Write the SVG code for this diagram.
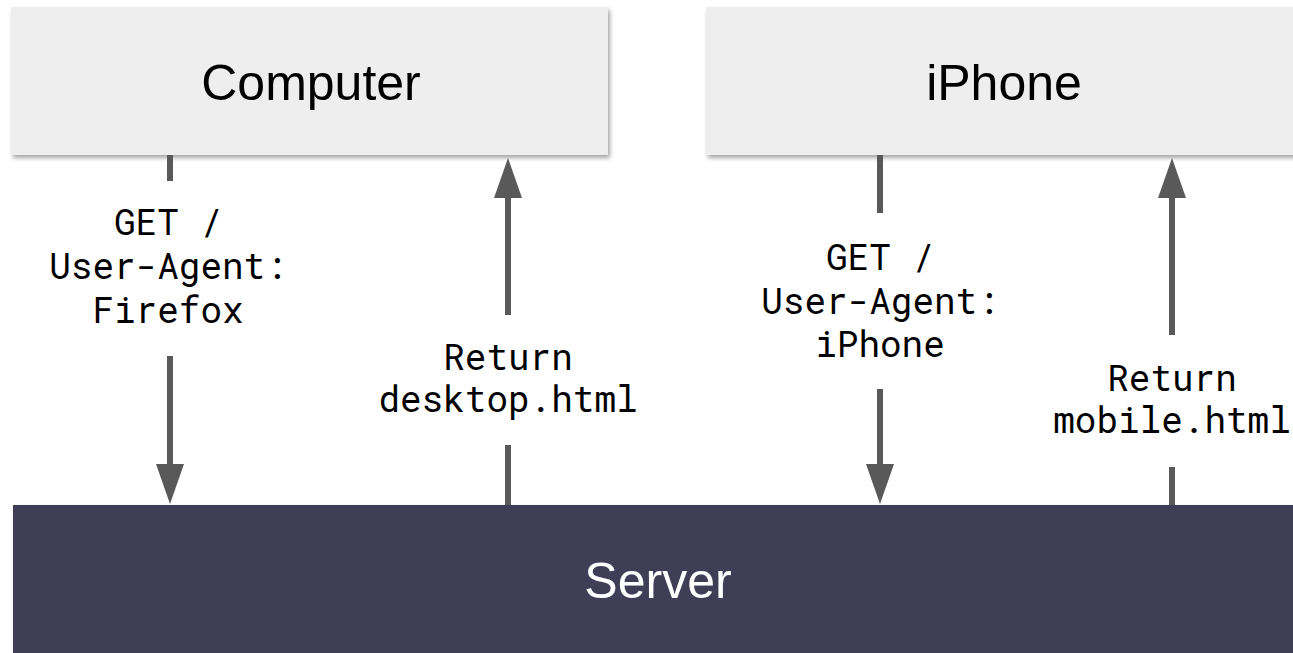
<svg xmlns="http://www.w3.org/2000/svg" width="1293" height="653" viewBox="0 0 1293 653">
<style>
.box{fill:#eeeeee}
.srv{fill:#403d56}
.title{font-family:Arial,"Liberation Sans",sans-serif;font-size:50px;text-anchor:middle}
.lbl{font-family:"Roboto Mono","Liberation Mono","DejaVu Sans Mono",monospace;font-size:36px;text-anchor:middle;fill:#000}
.ln{stroke:#595959;stroke-width:6;fill:none}
</style>
<defs>
<filter id="sh" x="-5%" y="-10%" width="110%" height="130%">
<feDropShadow dx="2" dy="3" stdDeviation="2" flood-color="#000" flood-opacity="0.35"/>
</filter>
<marker id="ah" viewBox="0 0 28 40" refX="28" refY="14" markerUnits="userSpaceOnUse" markerWidth="40" markerHeight="28" orient="auto">
<path d="M0,0 L40,14 L0,28 Z" fill="#595959"/>
</marker>
</defs>
<rect width="1293" height="653" fill="#ffffff"/>
<g id="server">
<rect class="srv" x="13" y="505" width="1290" height="160" filter="url(#sh)"/>
<text class="title" x="658" y="598" fill="#ffffff">Server</text>
</g>
<g id="computer">
<rect class="box" x="11" y="7" width="597" height="148" filter="url(#sh)"/>
<text class="title" x="311" y="100" fill="#000">Computer</text>
</g>
<g id="iphone">
<rect class="box" x="706" y="7" width="597" height="148" filter="url(#sh)"/>
<text class="title" x="1004" y="100" fill="#000">iPhone</text>
</g>
<g id="connectors">
<line class="ln" x1="170" y1="155" x2="170" y2="181"/>
<line class="ln" x1="170" y1="356" x2="170" y2="470"/>
<path d="M156,464 L184,464 L170,504 Z" fill="#595959"/>
<line class="ln" x1="508" y1="505" x2="508" y2="445"/>
<line class="ln" x1="508" y1="315" x2="508" y2="192"/>
<path d="M494,198 L522,198 L508,158 Z" fill="#595959"/>
<line class="ln" x1="880" y1="155" x2="880" y2="213"/>
<line class="ln" x1="880" y1="389" x2="880" y2="470"/>
<path d="M866,464 L894,464 L880,504 Z" fill="#595959"/>
<line class="ln" x1="1172" y1="505" x2="1172" y2="467"/>
<line class="ln" x1="1172" y1="335" x2="1172" y2="192"/>
<path d="M1158,198 L1186,198 L1172,158 Z" fill="#595959"/>
</g>
<g id="labels">
<text class="lbl" x="168" y="235">GET /</text>
<text class="lbl" x="168" y="279">User-Agent:</text>
<text class="lbl" x="168" y="323">Firefox</text>
<text class="lbl" x="508" y="370">Return</text>
<text class="lbl" x="508" y="412">desktop.html</text>
<text class="lbl" x="880" y="270">GET /</text>
<text class="lbl" x="880" y="314">User-Agent:</text>
<text class="lbl" x="880" y="357">iPhone</text>
<text class="lbl" x="1172" y="391">Return</text>
<text class="lbl" x="1172" y="433">mobile.html</text>
</g>
</svg>
